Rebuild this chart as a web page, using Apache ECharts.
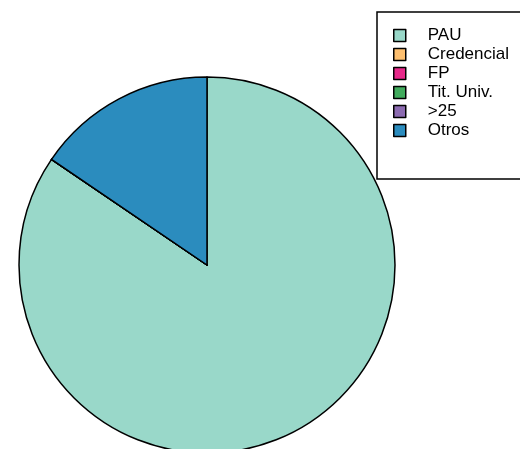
<!DOCTYPE html>
<html>
<head>
<meta charset="utf-8">
<script src="https://cdn.jsdelivr.net/npm/echarts@6/dist/echarts.min.js"></script>
<style>
html, body { margin: 0; padding: 0; background: #fff; }
#chart { width: 520px; height: 449px; }
</style>
</head>
<body>
<div id="chart"></div>
<script>
const categories = ['PAU', 'Credencial', 'FP', 'Tit. Univ.', '>25', 'Otros'];
const values = [84.5, 0, 0, 0, 0, 15.5];
const colors = ['#99d8c9', '#fdbf6f', '#e7298a', '#41ab5d', '#8c6bb1', '#2b8cbe'];

const myChart = echarts.init(document.getElementById('chart'));
const option = {
    animation: false,
    color: colors,
    legend: {
        orient: 'vertical',
        left: 377,
        top: 12,
        padding: [15, 40, 40, 16],
        backgroundColor: '#fff',
        borderColor: '#000',
        borderWidth: 1.5,
        borderRadius: 0,
        icon: 'rect',
        itemWidth: 12,
        itemHeight: 12,
        itemGap: 2,
        itemStyle: { borderColor: '#000', borderWidth: 1.5 },
        textStyle: {
            color: '#000', fontSize: 17, lineHeight: 17,
            padding: [0, 0, 0, 17],
            fontFamily: 'Liberation Sans, Arial, sans-serif'
        },
        data: categories
    },
    series: [{
        type: 'pie',
        center: [207, 265],
        radius: 188,
        startAngle: 90,
        clockwise: true,
        label: { show: false },
        labelLine: { show: false },
        emphasis: { disabled: true },
        itemStyle: { borderColor: '#000', borderWidth: 1.5 },
        data: categories.map((c, i) => ({ name: c, value: values[i] }))
    }]
};
myChart.setOption(option);
</script>
</body>
</html>
